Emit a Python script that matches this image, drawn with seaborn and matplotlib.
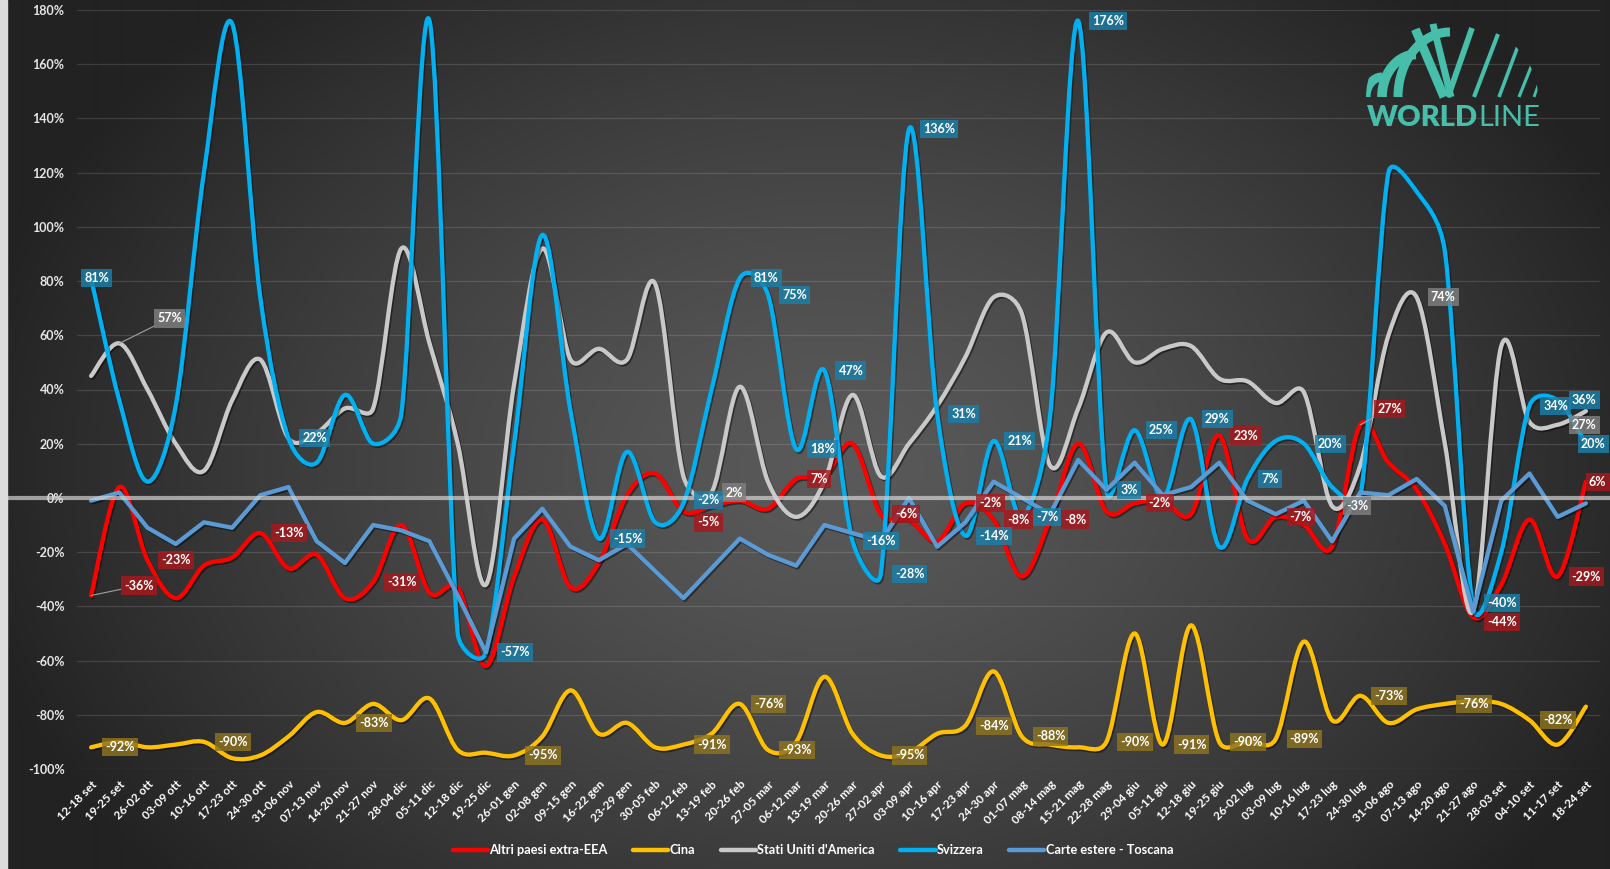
import numpy as np
import pandas as pd
import matplotlib
matplotlib.use('Agg')
import matplotlib.pyplot as plt
import matplotlib.patheffects as pe
import matplotlib.transforms as mtransforms
from matplotlib.path import Path
from matplotlib.patches import PathPatch, Rectangle, Ellipse
from matplotlib.lines import Line2D
import seaborn as sns

# ---- data (weekly % change) ----
weeks = ["12-18 set", "19-25 set", "26-02 ott", "03-09 ott", "10-16 ott", "17-23 ott", "24-30 ott",
         "31-06 nov", "07-13 nov", "14-20 nov", "21-27 nov", "28-04 dic", "05-11 dic", "12-18 dic",
         "19-25 dic", "26-01 gen", "02-08 gen", "09-15 gen", "16-22 gen", "23-29 gen", "30-05 feb",
         "06-12 feb", "13-19 feb", "20-26 feb", "27-05 mar", "06-12 mar", "13-19 mar", "20-26 mar",
         "27-02 apr", "03-09 apr", "10-16 apr", "17-23 apr", "24-30 apr", "01-07 mag", "08-14 mag",
         "15-21 mag", "22-28 mag", "29-04 giu", "05-11 giu", "12-18 giu", "19-25 giu", "26-02 lug",
         "03-09 lug", "10-16 lug", "17-23 lug", "24-30 lug", "31-06 ago", "07-13 ago", "14-20 ago",
         "21-27 ago", "28-03 set", "04-10 set", "11-17 set", "18-24 set"]

altri = [-36, 4, -23, -37, -25, -22, -13, -26, -21, -37,
         -31, -10, -35, -33, -62, -29, -8, -33, -24, 1,
         9, -5, -3, -1, -4, 7, 8, 20, -6, -8,
         -16, -2, -8, -29, -8, 20, -5, -2, -1, -6,
         23, -15, -7, -10, -18, 27, 13, 3, -17, -44,
         -32, -8, -29, 6]
cina = [-92, -90, -92, -91, -90, -96, -95, -88, -79, -83,
        -76, -82, -74, -93, -94, -95, -88, -71, -87, -83,
        -92, -91, -87, -76, -93, -90, -66, -87, -95, -94,
        -87, -84, -64, -88, -91, -92, -90, -50, -91, -47,
        -90, -90, -89, -53, -82, -73, -83, -78, -76, -75,
        -76, -82, -91, -77]
usa = [45, 57, 40, 20, 10, 36, 51, 22, 24, 33,
       33, 92, 57, 20, -32, 42, 92, 51, 55, 51,
       79, 8, 2, 41, 6, -7, 6, 38, 8, 20,
       34, 52, 74, 68, 12, 33, 61, 50, 55, 56,
       44, 43, 35, 39, -3, 12, 60, 74, 20, -42,
       56, 28, 27, 32]
svizzera = [81, 36, 6, 34, 120, 175, 74, 22, 13, 38,
            20, 31, 176, -50, -57, 20, 97, 32, -15, 17,
            -9, -2, 40, 81, 75, 18, 47, -16, -28, 136,
            31, -14, 21, -7, 30, 176, 3, 25, 0, 29,
            -18, 7, 21, 20, 4, 0, 120, 113, 91, -40,
            -20, 34, 36, 20]
toscana = [-1, 2, -11, -17, -9, -11, 1, 4, -16, -24,
           -10, -12, -16, -36, -57, -15, -4, -18, -23, -17,
           -27, -37, -26, -15, -21, -25, -10, -13, -16, 0,
           -18, -9, 6, 0, -6, 14, 3, 13, 1, 4,
           13, -1, -6, -1, -16, 2, 1, 7, -3, -42,
           -1, 9, -7, -2]

names = ["Altri paesi extra-EEA", "Cina", "Stati Uniti d'America", "Svizzera", "Carte estere - Toscana"]
values = [altri, cina, usa, svizzera, toscana]
line_colors = ['#FF0000', '#FFC000', '#C9C9C9', '#00B0F0', '#5B9BD5']
box_colors = ['#A8181C', '#8E7420', '#808080', '#1A80AA', '#1A80AA']

# which points carry a data label
labeled = {
    0: [0, 2, 6, 10, 21, 25, 28, 31, 32, 34, 37, 40, 42, 45, 49, 52, 53],
    1: [0, 4, 9, 15, 21, 23, 24, 28, 31, 33, 36, 38, 40, 42, 45, 48, 51],
    2: [1, 22, 44, 47, 52],
    3: [0, 7, 14, 18, 21, 23, 24, 25, 26, 27, 28, 29, 30, 31, 32, 33, 35, 36, 37, 39,
        41, 43, 49, 51, 52, 53],
}
# label offsets in pixels (box left edge, vertical shift up) where not default
special = {(0, 0): (30, 10, True), (0, 45): (14, 16, True), (2, 1): (35, 25, True),
           (3, 0): (-10, 0, False), (3, 53): (-8, 0, False), (0, 53): (0, 0, False),
           (0, 21): (11, -11, False), (3, 21): (11, 3, False),
           (0, 49): (11, -5, False), (3, 49): (11, 3, False)}

W, H = 1610, 869
PT = 0.72  # points per pixel at dpi 100
SX, SY = 1523 / 54, 759 / 280  # pixels per category / per percent

sns.set_theme(style='dark')
plt.rcParams['font.family'] = ['Lato', 'DejaVu Sans']

fig = plt.figure(figsize=(W / 100, H / 100), dpi=100)

# background radial gradient
yy, xx = np.mgrid[0:H, 0:W]
d = np.sqrt(((xx - 830) / 880.0) ** 2 + ((yy - 470) / 640.0) ** 2)
d = np.clip(d, 0, 1)
g = (0x5a - (0x5a - 0x22) * d ** 1.3) / 255.0
bg = fig.add_axes([0, 0, 1, 1], zorder=-10)
bg.imshow(np.dstack([g, g, g]), extent=[0, 1, 0, 1], aspect='auto', interpolation='bilinear')
bg.axis('off')
fig.patches.append(Rectangle((0, 0), 7 / W, 1, transform=fig.transFigure, color='#dcdcdc', zorder=-5))

left, right = 77 / W, 1600 / W
bottom, top = 1 - 769 / H, 1 - 10 / H
ax = fig.add_axes([left, bottom, right - left, top - bottom])
ax.set_facecolor('none')
for s in ax.spines.values():
    s.set_visible(False)

x = np.arange(len(weeks))
ax.set_xlim(-0.5, len(weeks) - 0.5)
ax.set_ylim(-100, 180)
ax.set_yticks(np.arange(-100, 181, 20))
ax.set_yticklabels([f"{v}%" for v in range(-100, 181, 20)], color='#e6e6e6', fontsize=9, fontweight='bold')
ax.set_xticks(x)
ax.set_xticklabels(weeks, rotation=45, ha='right', rotation_mode='anchor', color='white',
                   fontsize=8.5, fontweight='bold')
ax.tick_params(axis='y', length=0, pad=9)
ax.tick_params(axis='x', length=0, pad=7)
ax.grid(False)
for v in range(-100, 181, 20):
    if v != 0:
        ax.axhline(v, color='white', alpha=0.13, lw=0.9, zorder=1)


def smooth_path(xs, ys):
    # Excel-like smoothed line: cubic Bezier through the points, handles capped at half a segment
    P = np.column_stack([np.asarray(xs, float) * SX, np.asarray(ys, float) * SY])
    n = len(P)
    verts = [P[0]]
    codes = [Path.MOVETO]
    for i in range(n - 1):
        p0 = P[i - 1] if i > 0 else P[i]
        p1, p2 = P[i], P[i + 1]
        p3 = P[i + 2] if i + 2 < n else P[i + 1]
        half = np.hypot(*(p2 - p1)) / 2
        v1, v2 = (p2 - p0) / 6.0, (p3 - p1) / 6.0
        l1, l2 = np.hypot(*v1), np.hypot(*v2)
        if l1 > half:
            v1 = v1 * half / l1
        if l2 > half:
            v2 = v2 * half / l2
        verts += [p1 + v1, p2 - v2, p2]
        codes += [Path.CURVE4] * 3
    V = np.array(verts)
    V[:, 0] /= SX
    V[:, 1] /= SY
    return Path(V, codes)


shadow = [pe.SimpleLineShadow(offset=(1, -1.2), shadow_color='black', alpha=0.45), pe.Normal()]
LW = 3.1

for k in range(4):
    patch = PathPatch(smooth_path(x, values[k]), fill=False, edgecolor=line_colors[k], lw=LW,
                      capstyle='round', joinstyle='round', zorder=5 + k, path_effects=shadow)
    ax.add_patch(patch)

df = pd.DataFrame({'week': x, 'val': toscana})
sns.lineplot(data=df, x='week', y='val', color=line_colors[4], lw=LW, ax=ax, zorder=9,
             solid_capstyle='round', path_effects=shadow)
ax.set_xlabel('')
ax.set_ylabel('')

# zero line across the whole width
trans = mtransforms.blended_transform_factory(ax.transAxes, ax.transData)
ax.plot([(8 - 77) / 1523, (1610 - 77) / 1523], [0, 0], transform=trans, color='#d4d4d4',
        alpha=0.7, lw=3.0, clip_on=False, zorder=10, solid_capstyle='butt')

# data labels
for k, idxs in labeled.items():
    vals = values[k]
    for i in idxs:
        dx, dy, leader = special.get((k, i), (11, 0, False))
        kw = {}
        if leader:
            kw['arrowprops'] = dict(arrowstyle='-', color='#a0a0a0', lw=0.8, shrinkA=0, shrinkB=0)
        ax.annotate(f"{vals[i]}%", xy=(i, vals[i]), xytext=((dx + 3) * PT, dy * PT),
                    textcoords='offset points', ha='left', va='center', color='white',
                    fontsize=9, fontweight='bold', zorder=20 + k, annotation_clip=False,
                    bbox=dict(boxstyle='square,pad=0.25', fc=box_colors[k], ec='none', alpha=0.82), **kw)

# legend
handles = [Line2D([0], [0], color=c, lw=3.2) for c in line_colors]
fig.legend(handles, names, loc='center', bbox_to_anchor=(0.505, 19 / H), ncol=5, frameon=False,
           handlelength=2.75, handletextpad=0.1, columnspacing=2.0, labelcolor='white',
           prop={'weight': 'bold', 'size': 9.2})

# logo
teal = '#46BEAA'
lg = fig.add_axes([1360 / W, 1 - 132 / H, 190 / W, 122 / H])
lg.set_xlim(1360, 1550)
lg.set_ylim(132, 10)
lg.axis('off')
dome = Ellipse((1452, 97), 172, 150, transform=lg.transData, fc='none', ec='none')
lg.add_patch(dome)
t = np.linspace(0, np.pi / 2, 50)
# curved bands on the left
for xb, r, w in [(1366, 16, 6.5), (1382, 34, 7.0), (1398, 52, 6.5)]:
    ln, = lg.plot(xb + r - r * np.cos(t), 97 - r * np.sin(t) * 1.25, color=teal, lw=w,
                  solid_capstyle='butt')
    ln.set_clip_path(dome)
# the W and the thin rays on the right
for xs_, ys_, w in [((1414, 1444), (26, 97), 6.5), ((1432, 1451), (20, 97), 5.0),
                    ((1448, 1472), (97, 28), 4.2), ((1474, 1498), (97, 34), 3.0),
                    ((1499, 1518), (97, 46), 2.6), ((1519, 1533), (97, 62), 2.3),
                    ((1534, 1540), (97, 80), 2.0)]:
    ln, = lg.plot(xs_, ys_, color=teal, lw=w, solid_capstyle='butt')
    ln.set_clip_path(dome)
t1 = lg.text(1367, 126, "WORLD", color=teal, fontsize=21, fontweight='heavy', ha='left', va='baseline')
lg.annotate("LINE", xy=(1, 0), xycoords=t1, xytext=(0.5, 0), textcoords='offset points',
            color=teal, fontsize=21, fontweight='normal', ha='left', va='bottom')

fig.savefig('out.png', dpi=100)
